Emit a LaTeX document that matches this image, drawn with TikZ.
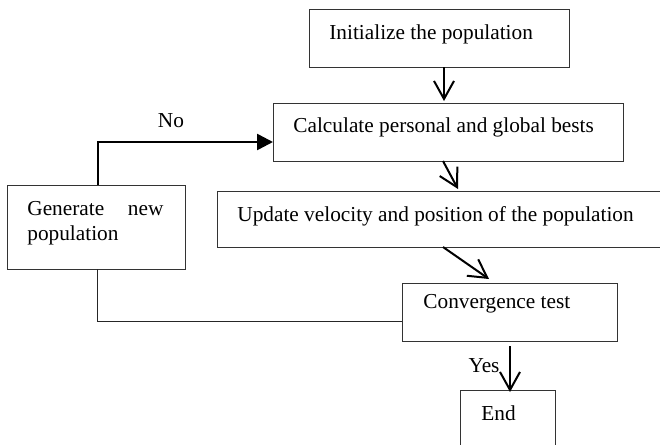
\documentclass[tikz,border=0pt]{standalone}
\usepackage{fontspec}
\setmainfont{Liberation Serif}
\usetikzlibrary{arrows.meta}
\tikzset{
  box/.style={draw=black!80, line width=0.5pt, rectangle, inner sep=0pt, anchor=north west},
  txt/.style={inner sep=0pt, anchor=base west, font=\fontsize{10.65}{13}\selectfont},
  flow/.style={line width=1pt, -{Straight Barb[length=9pt, width=10pt, line width=1pt]}},
  noflow/.style={line width=1.3pt, -{Triangle[length=8pt, width=8pt]}},
  back/.style={draw=black!85, line width=0.5pt}
}
\begin{document}
\begin{tikzpicture}[x=0.5pt, y=-0.5pt]
\useasboundingbox (0,0) rectangle (660,445);
\clip (0,0) rectangle (660,445);
\fill[white] (0,0) rectangle (660,445);
% boxes
\node[box, minimum width=130pt, minimum height=29pt] (init) at (309,9) {};
\node[box, minimum width=175pt, minimum height=29pt] (calc) at (273,103) {};
\node[box, minimum width=236.5pt, minimum height=28pt] (upd) at (217,191) {};
\node[box, minimum width=89pt, minimum height=42pt] (gen) at (7,185) {};
\node[box, minimum width=107.5pt, minimum height=29pt] (conv) at (402,283) {};
\node[box, minimum width=47.5pt, minimum height=45pt] (end) at (460,390) {};
% texts
\node[txt] (tinit) at (329,39) {Initialize the population};
\node[txt] (tcalc) at (293,132) {Calculate personal and global bests};
\node[txt] (tupd) at (237,221) {Update velocity and position of the population};
\node[txt] (tgen1) at (27,215) {\makebox[68pt][s]{Generate new}};
\node[txt] (tgen2) at (27,240) {population};
\node[txt] (tconv) at (423,308) {Convergence test};
\node[txt] (tend) at (481,420) {End};
\node[txt, anchor=base] (tno) at (171,127) {No};
\node[txt, anchor=base] (tyes) at (484,372) {Yes};
% connectors
\coordinate (a1) at (444,67);
\coordinate (a2) at (444,101);
\draw[flow] (a1) -- (a2);
\coordinate (b1) at (443,161);
\coordinate (b2) at (458,189);
\draw[flow] (b1) -- (b2);
\coordinate (c1) at (443,247);
\coordinate (c2) at (489,279);
\draw[flow] (c1) -- (c2);
\coordinate (d1) at (510,346);
\coordinate (d2) at (510,392);
\draw[flow] (d1) -- (d2);
\coordinate (n1) at (98,185);
\coordinate (n2) at (98,142);
\coordinate (n3) at (273,142);
\draw[noflow] (n1) -- (n2) -- (n3);
\coordinate (r1) at (97,269);
\coordinate (r2) at (97,321);
\coordinate (r3) at (402,321);
\draw[back] (r1) -- (r2) -- (r3);
\end{tikzpicture}
\end{document}
